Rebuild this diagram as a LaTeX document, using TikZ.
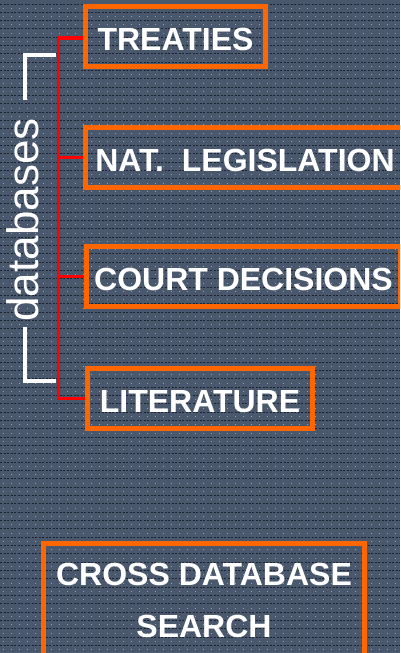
\documentclass[tikz,border=0pt]{standalone}
\usepackage{fontspec}
\setmainfont{Liberation Sans}
\usepackage{tikz}

\definecolor{slate}{RGB}{74,88,110}
\definecolor{slateline}{RGB}{28,35,48}
\definecolor{slatedot}{RGB}{140,162,195}
\definecolor{boxorange}{RGB}{255,102,0}

\begin{document}
\begin{tikzpicture}[x=1pt,y=-1pt,
  boxbase/.style={draw=boxorange, line width=5pt, text=white, inner sep=0pt},
  dbbox/.style={boxbase, font=\fontsize{32}{38}\selectfont\bfseries,
    text height=28pt, text depth=0pt, minimum height=60pt, anchor=west},
  tree/.style={red, line width=3.3pt},
  bracket/.style={white, line width=3.5pt}]

\def\xmax{400}
\def\ymax{653}

\useasboundingbox (0,0) rectangle (\xmax,\ymax);
\clip (0,0) rectangle (\xmax,\ymax);
\fill[slate] (0,0) rectangle (\xmax,\ymax);

% striped background
\foreach \y in {4,12.33,...,653}{
  \draw[slateline, line width=1pt, dash pattern=on 2pt off 1.5pt] (0,\y) -- (\xmax,\y);
  \draw[slatedot, line width=0.8pt, dash pattern=on 1pt off 7pt] (3,\y+4.2) -- (\xmax,\y+4.2);
}

% the databases
\node[dbbox, minimum width=180pt] (treaties) at (83,36.5) {TREATIES};
\node[dbbox, minimum width=319pt] (natleg) at (83,157.5) {NAT.\ \ LEGISLATION};
\node[dbbox, minimum width=314pt] (court) at (84,276.5) {COURT DECISIONS};
\node[dbbox, minimum width=225pt] (lit) at (85,398.5) {LITERATURE};

\node[boxbase, minimum width=321pt, minimum height=113pt, align=center,
  font=\fontsize{32}{52}\selectfont\bfseries] (cross) at (204,600) {CROSS DATABASE\\SEARCH};

% label and bracket
\node[rotate=90, anchor=base, text=white, inner sep=0pt,
  font=\fontsize{44}{50}\selectfont] (dblabel) at (38.5,220) {databases};

\coordinate (bra) at (56,55);
\coordinate (brb) at (25,100);
\coordinate (brc) at (25,327);
\coordinate (brd) at (56,381);
\draw[bracket] (bra) -| (brb);
\draw[bracket] (brc) |- (brd);

% red tree
\coordinate (trunk) at (58.5,38);
\draw[tree] (treaties.west |- trunk) -- (trunk) -- (trunk |- lit.west) -- (lit.west);
\draw[tree] (natleg.west) -- (natleg.west -| trunk);
\draw[tree] (court.west) -- (court.west -| trunk);

\end{tikzpicture}
\end{document}
